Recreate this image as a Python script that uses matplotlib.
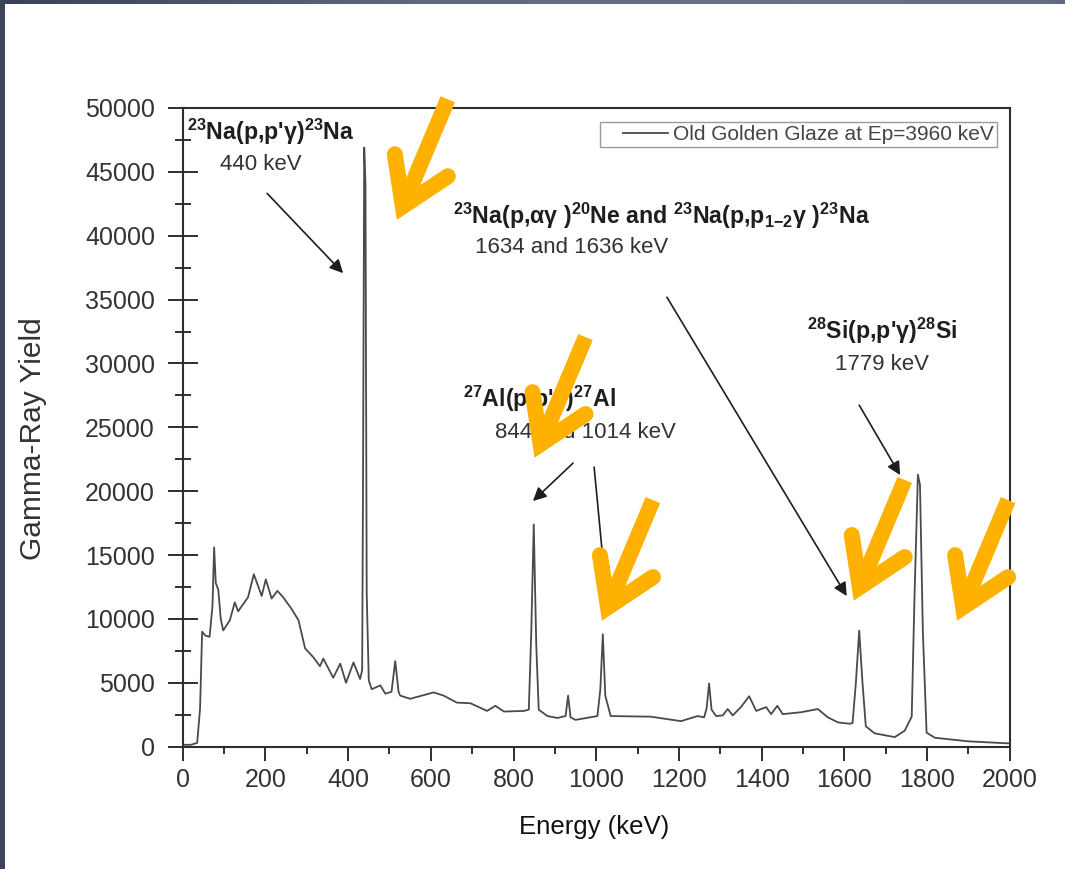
import numpy as np
import matplotlib
matplotlib.use("Agg")
import matplotlib.pyplot as plt
from matplotlib.lines import Line2D
from matplotlib.patches import Rectangle
from matplotlib.transforms import IdentityTransform
from matplotlib.colors import LinearSegmentedColormap

# ---------------- data ----------------
energy_kev = [0, 20, 35, 42, 47, 55, 65, 72, 76, 80,
              86, 92, 98, 114, 126, 134, 158, 172, 191, 201,
              215, 229, 243, 263, 280, 296, 316, 332, 340, 364,
              381, 395, 413, 429, 434, 436, 439, 442, 445, 450,
              457, 478, 490, 505, 514, 522, 526, 550, 607, 631,
              663, 696, 736, 756, 777, 825, 837, 843, 849, 855,
              861, 882, 906, 926, 932, 938, 950, 1003, 1010, 1016,
              1022, 1035, 1132, 1205, 1245, 1261, 1267, 1273, 1279, 1290,
              1306, 1318, 1330, 1350, 1370, 1387, 1411, 1423, 1438, 1451,
              1496, 1536, 1560, 1585, 1613, 1620, 1628, 1636, 1644, 1652,
              1673, 1722, 1746, 1763, 1770, 1778, 1783, 1790, 1799, 1819,
              1900, 1997]
gamma_yield = [150, 150, 300, 3000, 9000, 8700, 8600, 11000, 15600, 12800,
               12300, 10000, 9100, 9900, 11300, 10600, 11700, 13500, 11800, 13100,
               11600, 12200, 11700, 10800, 9900, 7700, 7000, 6300, 6900, 5400,
               6500, 5000, 6600, 5300, 6000, 20000, 46900, 44000, 12000, 5200,
               4500, 4800, 4150, 4300, 6700, 4300, 4000, 3750, 4250, 4000,
               3450, 3400, 2800, 3200, 2750, 2800, 2900, 9000, 17400, 8000,
               2900, 2400, 2250, 2400, 4000, 2300, 2100, 2400, 4500, 8800,
               4000, 2400, 2350, 2000, 2400, 2300, 3000, 4950, 2900, 2400,
               2450, 2950, 2450, 3100, 3950, 2800, 3100, 2550, 3200, 2550,
               2700, 2950, 2300, 1900, 1800, 1850, 5000, 9080, 5000, 1600,
               1050, 750, 1250, 2350, 12000, 21300, 20500, 9000, 1100, 700,
               420, 260]

x_ticks = list(range(0, 2001, 200))
y_ticks = list(range(0, 50001, 5000))
series_label = "Old Golden Glaze at Ep=3960 keV"

titles = [r"$^{\mathbf{23}}$Na(p,p'γ)$^{\mathbf{23}}$Na",
          r"$^{\mathbf{23}}$Na(p,αγ )$^{\mathbf{20}}$Ne and $^{\mathbf{23}}$Na(p,p$_{\mathbf{1{-}2}}$γ )$^{\mathbf{23}}$Na",
          r"$^{\mathbf{27}}$Al(p,p'γ)$^{\mathbf{27}}$Al",
          r"$^{\mathbf{28}}$Si(p,p'γ)$^{\mathbf{28}}$Si"]
title_pos = [(10, 47540), (654, 40960), (678, 26610), (1510, 31960)]
energy_lines = ["440 keV", "1634 and 1636 keV", "844 and 1014 keV", "1779 keV"]
energy_line_pos = [(90, 45180), (707, 38610), (755, 24130), (1577, 29480)]

pointer_tails = [(204, 43320), (1171, 35190), (944, 22200), (995, 21890), (1636, 26740)]
pointer_heads = [(388, 37070), (1606, 11790), (847, 19230), (1021, 13040), (1735, 21260)]

highlight_tips = [(513, 40900), (846, 22280), (1009, 9520), (1618, 11090), (1868, 9520)]

# ---------------- style ----------------
plt.rcParams["font.family"] = ["Liberation Sans", "DejaVu Sans"]
plt.rcParams["mathtext.fontset"] = "custom"
plt.rcParams["mathtext.rm"] = "Liberation Sans"
plt.rcParams["mathtext.bf"] = "Liberation Sans:bold"
plt.rcParams["mathtext.it"] = "Liberation Sans:italic"

W, H = 1065, 869
fig = plt.figure(figsize=(W / 100, H / 100), dpi=100)
fig.patch.set_facecolor("white")

# screenshot border (dark band at top and left)
band_ax = fig.add_axes([0, 1 - 4 / H, 1, 4 / H])
cm = LinearSegmentedColormap.from_list("b", ["#3a4255", "#6b7186"])
band_ax.imshow(np.interp(np.linspace(0, 1, 200), [0, 0.4, 0.75, 1], [0, 0.8, 1, 0.85])[None, :],
               aspect="auto", cmap=cm, vmin=0, vmax=1)
band_ax.axis("off")
fig.add_artist(Rectangle((0, 0), 5 / W, 1, transform=fig.transFigure, color="#3c4457", lw=0, zorder=5))

ax = fig.add_axes([182.7 / W, (H - 746.7) / H, 827 / W, 638.7 / H])
ax.plot(energy_kev, gamma_yield, color="#4a4a4a", lw=1.3, label=series_label, zorder=2)

ax.set_xlim(0, 2000)
ax.set_ylim(0, 50000)
ax.set_xticks(x_ticks)
ax.set_yticks(y_ticks)
ax.set_xticks(range(100, 2000, 200), minor=True)
ax.set_yticks(range(2500, 50000, 5000), minor=True)
ax.set_xticklabels([str(v) for v in x_ticks])
ax.set_yticklabels([str(v) for v in y_ticks])

spine_c = "#2e2e2e"
for s in ax.spines.values():
    s.set_color(spine_c)
    s.set_linewidth(1.5)
ax.tick_params(axis="y", which="major", direction="inout", length=21, width=1.4, pad=9.5,
               labelsize=18, colors=spine_c, labelcolor="#333333")
ax.tick_params(axis="y", which="minor", direction="inout", length=11, width=1.4, colors=spine_c)
ax.tick_params(axis="x", which="major", direction="out", length=10, width=1.4, pad=5,
               labelsize=18, colors=spine_c, labelcolor="#333333")
ax.tick_params(axis="x", which="minor", direction="out", length=5, width=1.4, colors=spine_c)

ax.set_xlabel("Energy (keV)", fontsize=18.5, color="#111111")
ax.xaxis.set_label_coords(0.497, -0.107)
ax.set_ylabel("Gamma-Ray Yield", fontsize=21.5, color="#333333")
ax.yaxis.set_label_coords(-0.164, 0.483)

leg = ax.legend(loc="upper right", bbox_to_anchor=(0.9846, 0.978), fontsize=15, frameon=True,
                fancybox=False, edgecolor="#9a9a9a", framealpha=1, borderpad=0.15,
                handlelength=3.1, handletextpad=0.25, borderaxespad=0)
leg.get_frame().set_linewidth(1.0)
for t in leg.get_texts():
    t.set_color("#444444")
h = leg.legend_handles[0]
xd = np.asarray(h.get_xdata(), dtype=float)
h.set_xdata(np.linspace(xd[0] + 0.3 * (xd[-1] - xd[0]), xd[-1], len(xd)))

for txt, (ex, ey) in zip(titles, title_pos):
    ax.text(ex, ey, txt, fontsize=16.7, fontweight="bold", color="#1e1e1e", ha="left",
            va="baseline", zorder=4)
for txt, (ex, ey) in zip(energy_lines, energy_line_pos):
    ax.text(ex, ey, txt, fontsize=16, color="#333333", ha="left", va="baseline", zorder=4)

for tail, head in zip(pointer_tails, pointer_heads):
    ax.annotate("", xy=head, xytext=tail,
                arrowprops=dict(arrowstyle="-|>", color="#1e1e1e", lw=1.2,
                                mutation_scale=20, shrinkA=0, shrinkB=0),
                zorder=3, annotation_clip=False)

# orange highlight arrows, shaped in pixel offsets from their tips
orange = "#FFB100"
vert_off = np.array([8, -18])
left_off = np.array([0, -70])
right_off = np.array([53, -48])
shaft_off = np.array([53, -125])
for tip in highlight_tips:
    px = ax.transData.transform(tip)

    def P(off):
        return px + np.array([off[0], -off[1]])

    v, l, r, s = P(vert_off), P(left_off), P(right_off), P(shaft_off)
    shaft = Line2D([s[0], v[0]], [s[1], v[1]], color=orange, lw=11.3,
                   solid_capstyle="butt", transform=IdentityTransform(), zorder=10)
    head = Line2D([l[0], v[0], r[0]], [l[1], v[1], r[1]], color=orange, lw=11.5,
                  solid_capstyle="round", solid_joinstyle="miter",
                  transform=IdentityTransform(), zorder=10)
    fig.add_artist(shaft)
    fig.add_artist(head)

fig.savefig("out.png", dpi=100)
